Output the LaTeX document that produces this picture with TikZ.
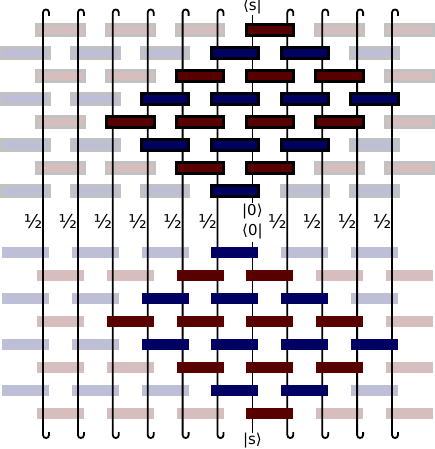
\documentclass[tikz,border=0pt]{standalone}
\usepackage{fontspec}
\setmainfont{DejaVu Sans}
\definecolor{dred}{RGB}{88,0,0}
\definecolor{dblue}{RGB}{0,0,98}
\definecolor{fred}{RGB}{214,190,190}
\definecolor{fblue}{RGB}{190,190,214}
\definecolor{fgray}{RGB}{194,194,194}
\tikzset{
  ubar/.style={rectangle,inner sep=0pt,minimum width=47.5pt,minimum height=11.5pt,line width=3pt},
  lbar/.style={rectangle,inner sep=0pt,minimum width=47pt,minimum height=11pt},
  wire/.style={line width=1.8pt,black},
  lbl/.style={font=\fontsize{15}{15}\selectfont,inner sep=0pt},
  half/.style={font=\fontsize{19}{19}\selectfont,inner sep=0pt},
}
\begin{document}
\begin{tikzpicture}[x=1pt,y=-1pt]
\useasboundingbox (0,0) rectangle (435,449);
\def\xo{43}\def\sp{34.9}
% faded bars (under wires)
\foreach \r in {0,...,7}{
  \pgfmathtruncatemacro\pp{mod(\r,2)}
  \foreach \k in {0,...,5}{
    % upper half: even rows red (pairs from even wires), odd rows blue
    \pgfmathtruncatemacro\i{2*\k-\pp}
    \pgfmathsetmacro\c{\i+0.5}
    \pgfmathtruncatemacro\dk{and(abs(\c-6.5)<=\r,abs(\c-5.5)<=7-\r)}
    \pgfmathsetmacro\xx{\xo+\sp*\c}
    \pgfmathsetmacro\yy{30+23*\r}
    \ifnum\dk=0
      \ifnum\pp=0
        \node[ubar,fill=fred,draw=fgray] (uf-\r-\k) at (\xx,\yy) {};
      \else
        \node[ubar,fill=fblue,draw=fgray] (uf-\r-\k) at (\xx,\yy) {};
      \fi
    \fi
    % lower half: even rows blue (pairs from odd wires), odd rows red
    \pgfmathtruncatemacro\j{2*\k-1+\pp}
    \pgfmathsetmacro\cl{\j+0.5}
    \pgfmathsetmacro\xl{\xo+\sp*\cl}
    \pgfmathsetmacro\yl{252+23*\r}
    \pgfmathtruncatemacro\ld{and(abs(\cl-5.5)<=\r,abs(\cl-6.5)<=7-\r)}
    \ifnum\ld=0
      \ifnum\pp=0
        \node[lbar,fill=fblue] (lf-\r-\k) at (\xl,\yl) {};
      \else
        \node[lbar,fill=fred] (lf-\r-\k) at (\xl,\yl) {};
      \fi
    \fi
  }
}
% wires
\foreach \i in {0,1,2,3,4,5,7,8,9,10}{
  \pgfmathsetmacro\x{\xo+\sp*\i}
  \pgfmathsetmacro\xe{\x+6}
  \coordinate (wt-\i) at (\x,12.5);
  \coordinate (wb-\i) at (\x,435);
  \draw[wire] (\xe,16) -- (\xe,12.5) .. controls (\xe,8.5) and (\x,8.5) .. (wt-\i) -- (wb-\i)
     .. controls (\x,439) and (\xe,439) .. (\xe,435) -- (\xe,432);
  \pgfmathsetmacro\xh{\x-10}
  \node[half] (h-\i) at (\xh,222) {½};
}
\pgfmathsetmacro\xs{\xo+\sp*6}
\node[lbl] (st) at (\xs,7) {⟨s|};
\node[lbl] (sb) at (\xs,441) {|s⟩};
\node[lbl] (k0) at (\xs,212) {|0⟩};
\node[lbl] (b0) at (\xs,232) {⟨0|};
\draw[wire] (st.south) -- (\xs,203);
\draw[wire] (\xs,242) -- (sb.north);
% dark bars (over wires)
\foreach \r in {0,...,7}{
  \pgfmathtruncatemacro\pp{mod(\r,2)}
  \foreach \k in {0,...,5}{
    \pgfmathtruncatemacro\i{2*\k-\pp}
    \pgfmathsetmacro\c{\i+0.5}
    \pgfmathtruncatemacro\dk{and(abs(\c-6.5)<=\r,abs(\c-5.5)<=7-\r)}
    \pgfmathsetmacro\xx{\xo+\sp*\c}
    \pgfmathsetmacro\yy{30+23*\r}
    \ifnum\dk=1
      \ifnum\pp=0
        \node[ubar,fill=dred,draw=black] (ud-\r-\k) at (\xx,\yy) {};
      \else
        \node[ubar,fill=dblue,draw=black] (ud-\r-\k) at (\xx,\yy) {};
      \fi
    \fi
    \pgfmathtruncatemacro\j{2*\k-1+\pp}
    \pgfmathsetmacro\cl{\j+0.5}
    \pgfmathsetmacro\xl{\xo+\sp*\cl}
    \pgfmathsetmacro\yl{252+23*\r}
    \pgfmathtruncatemacro\ld{and(abs(\cl-5.5)<=\r,abs(\cl-6.5)<=7-\r)}
    \ifnum\ld=1
      \ifnum\pp=0
        \node[lbar,fill=dblue] (ld-\r-\k) at (\xl,\yl) {};
      \else
        \node[lbar,fill=dred] (ld-\r-\k) at (\xl,\yl) {};
      \fi
    \fi
  }
}
\end{tikzpicture}
\end{document}
